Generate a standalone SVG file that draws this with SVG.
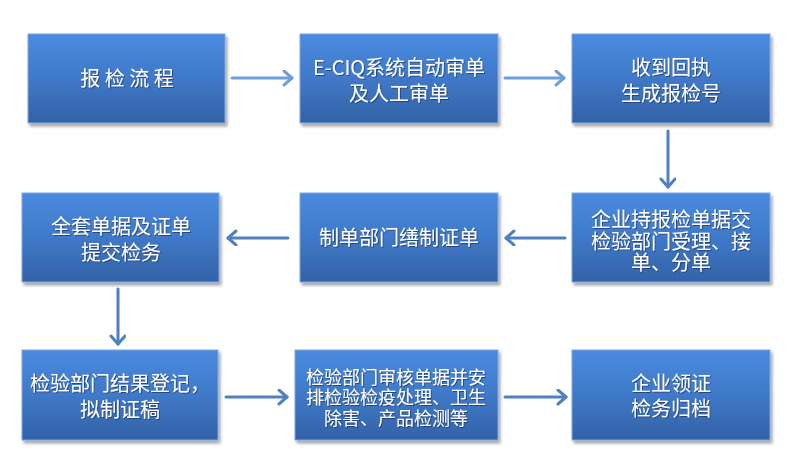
<svg xmlns="http://www.w3.org/2000/svg" width="790" height="471" viewBox="0 0 790 471">
<style>
.box{fill:url(#bg);stroke:#7aa7e3;stroke-width:1;filter:url(#sh)}
.t{font-family:"Noto Sans CJK SC","Liberation Sans",sans-serif;font-size:20px;fill:#ffffff;text-anchor:middle;filter:url(#ts)}
.s18{font-size:18px}
.c{fill:none;stroke-width:3;stroke-linecap:round}
.lt{stroke:#6d9fdf}
.dk{stroke:#4f80c0}
</style>
<defs>
<linearGradient id="bg" x1="0" y1="0" x2="0" y2="1">
<stop offset="0" stop-color="#4a8be0"/>
<stop offset="0.5" stop-color="#3f79c8"/>
<stop offset="1" stop-color="#3362a6"/>
</linearGradient>
<filter id="sh" x="-10%" y="-10%" width="125%" height="130%">
<feDropShadow dx="2" dy="3" stdDeviation="1.5" flood-color="#000" flood-opacity="0.35"/>
</filter>
<filter id="ts" x="-10%" y="-30%" width="120%" height="160%">
<feDropShadow dx="1" dy="1" stdDeviation="0.6" flood-color="#1a3660" flood-opacity="0.7"/>
</filter>
<marker id="ahL" markerUnits="userSpaceOnUse" markerWidth="16" markerHeight="18" refX="10" refY="8" orient="auto">
<path d="M2,1 L10,8 L2,15" fill="none" stroke="#6d9fdf" stroke-width="3" stroke-linecap="round" stroke-linejoin="round"/>
</marker>
<marker id="ahD" markerUnits="userSpaceOnUse" markerWidth="16" markerHeight="18" refX="10" refY="8" orient="auto">
<path d="M2,1 L10,8 L2,15" fill="none" stroke="#4f80c0" stroke-width="3" stroke-linecap="round" stroke-linejoin="round"/>
</marker>
</defs>
<rect width="790" height="471" fill="#ffffff"/>
<g id="connectors">
<line class="c lt" x1="232" y1="78" x2="292" y2="78" marker-end="url(#ahL)"/>
<line class="c lt" x1="505" y1="78" x2="564" y2="78" marker-end="url(#ahL)"/>
<line class="c dk" x1="668" y1="131" x2="668" y2="187" marker-end="url(#ahD)"/>
<line class="c dk" x1="565" y1="238" x2="506" y2="238" marker-end="url(#ahD)"/>
<line class="c dk" x1="288" y1="238" x2="228" y2="238" marker-end="url(#ahD)"/>
<line class="c dk" x1="118" y1="289" x2="118" y2="344" marker-end="url(#ahD)"/>
<line class="c dk" x1="226" y1="397" x2="287" y2="397" marker-end="url(#ahD)"/>
<line class="c dk" x1="505" y1="397" x2="566" y2="397" marker-end="url(#ahD)"/>
</g>
<g id="n1">
<rect class="box" x="28" y="34" width="197" height="89"/>
<text class="t" x="127" y="86" font-size="19">报 检 流 程</text>
</g>
<g id="n2">
<rect class="box" x="300" y="34" width="198" height="89"/>
<text class="t" x="399" y="75">E-CIQ系统自动审单</text>
<text class="t" x="399" y="101">及人工审单</text>
</g>
<g id="n3">
<rect class="box" x="572" y="34" width="198" height="89"/>
<text class="t" x="671" y="75">收到回执</text>
<text class="t" x="671" y="101">生成报检号</text>
</g>
<g id="n4">
<rect class="box" x="572" y="193" width="198" height="89"/>
<text class="t" x="671" y="227">企业持报检单据交</text>
<text class="t" x="671" y="249">检验部门受理、接</text>
<text class="t" x="671" y="270">单、分单</text>
</g>
<g id="n5">
<rect class="box" x="300" y="193" width="198" height="89"/>
<text class="t" x="399" y="245">制单部门缮制证单</text>
</g>
<g id="n6">
<rect class="box" x="22" y="193" width="197" height="89"/>
<text class="t" x="121" y="234">全套单据及证单</text>
<text class="t" x="121" y="260">提交检务</text>
</g>
<g id="n7">
<rect class="box" x="22" y="350" width="196" height="90"/>
<text class="t" x="120" y="391">检验部门结果登记，</text>
<text class="t" x="120" y="417">拟制证稿</text>
</g>
<g id="n8">
<rect class="box" x="295" y="350" width="203" height="90"/>
<text class="t s18" x="396" y="384">检验部门审核单据并安</text>
<text class="t s18" x="396" y="404">排检验检疫处理、卫生</text>
<text class="t s18" x="396" y="425">除害、产品检测等</text>
</g>
<g id="n9">
<rect class="box" x="572" y="350" width="198" height="90"/>
<text class="t" x="671" y="391">企业领证</text>
<text class="t" x="671" y="416">检务归档</text>
</g>
</svg>
